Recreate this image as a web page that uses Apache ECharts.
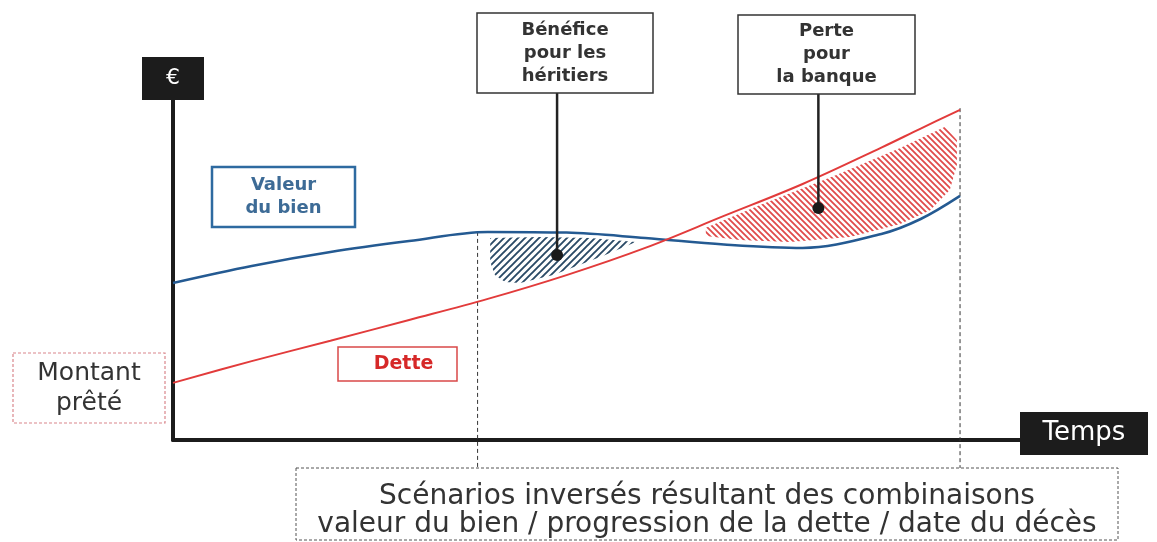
<!DOCTYPE html>
<html>
<head>
<meta charset="utf-8">
<script src="https://cdn.jsdelivr.net/npm/echarts@6/dist/echarts.min.js"></script>
<style>
html,body{margin:0;padding:0;background:#fff}
#chart{width:1157px;height:542px}
</style>
</head>
<body>
<div id="chart"></div>
<script>
// time steps (0 = start of loan, 100 = latest death date shown)
const timeSteps=[0,10,20,30,40,50,60,70,80,90,95,100]
const valeurBien=[46.2,51.2,55.3,58.5,61.2,61.0,59.4,57.5,56.5,60.6,65.0,71.8]
const dette=[16.8,23.2,29.2,35.3,41.5,48.5,56.5,65.9,75.3,86.0,91.6,97.1]

// death dates of the two scenarios and where their dashed marker starts
const deathDates=[38.7,100]
const deathTops=[61.2,97.6]

// hatched zones between the curves
const beneficeZone=[[40.3,59.4],[46.6,59.7],[53.0,59.4],[58.8,58.2],[54.6,54.1],[48.3,48.5],[44.1,46.2],[42.2,46.5],[40.9,48.5],[40.3,52.4]]
const perteZone=[[67.7,62.4],[74.6,69.1],[83.9,77.6],[92.4,85.9],[98.1,92.1],[99.6,88.2],[99.6,80.9],[98.7,73.5],[96.2,67.6],[92.4,63.5],[86.0,59.7],[78.4,58.2],[72.0,58.8],[67.7,60.0]]

// callout dots
const calloutPoints=[[48.8,54.4],[82.0,68.2]]
const calloutTops=[93,94]

const FONT='"DejaVu Sans", "Liberation Sans", sans-serif'

const hatch=(color,size,width,dir)=>{
	const c=document.createElement('canvas')
	c.width=c.height=size
	const g=c.getContext('2d')
	g.strokeStyle=color
	g.lineWidth=width
	g.beginPath()
	if(dir>0){
		g.moveTo(0,size);g.lineTo(size,0)
		g.moveTo(-2,2);g.lineTo(2,-2)
		g.moveTo(size-2,size+2);g.lineTo(size+2,size-2)
	}else{
		g.moveTo(0,0);g.lineTo(size,size)
		g.moveTo(-2,size-2);g.lineTo(2,size+2)
		g.moveTo(size-2,-2);g.lineTo(size+2,2)
	}
	g.stroke()
	return c
}
const zones=[
	{pts:beneficeZone,fill:{image:hatch('#2a4a66',7,1.9,1),repeat:'repeat'}},
	{pts:perteZone,fill:{image:hatch('#e04a4a',6,1.8,-1),repeat:'repeat'}}
]

const box=(x,y,w,h,text,o)=>({
	type:'group',
	children:[
		{type:'rect',shape:{x:x,y:y,width:w,height:h},style:{fill:o.bg||'#fff',stroke:o.stroke||null,lineWidth:o.lw||1,lineDash:o.dash||null},z:10},
		{type:'text',x:x+w/2+(o.dx||0),y:y+h/2+(o.dy||0),style:{text:text,align:'center',verticalAlign:'middle',font:o.font,fill:o.color,lineHeight:o.lh||20},z:11}
	]
})

const chart=echarts.init(document.getElementById('chart'))
chart.setOption({
	animation:false,
	backgroundColor:'#fff',
	grid:{left:173,right:134,top:100,bottom:102},
	xAxis:{
		type:'value',min:0,max:108,
		axisLine:{show:true,lineStyle:{color:'#1c1c1c',width:4}},
		axisTick:{show:false},axisLabel:{show:false},splitLine:{show:false}
	},
	yAxis:{
		type:'value',min:0,max:100,
		axisLine:{show:true,lineStyle:{color:'#1c1c1c',width:4}},
		axisTick:{show:false},axisLabel:{show:false},splitLine:{show:false}
	},
	graphic:[
		box(142,57,62,43,'€',{bg:'#1c1c1c',font:'22px '+FONT,color:'#fff'}),
		box(1020,412,128,43,'Temps',{bg:'#1c1c1c',font:'26px '+FONT,color:'#fff'}),
		box(212,167,143,60,'Valeur\ndu bien',{stroke:'#2e6aa0',lw:2.5,font:'bold 18px '+FONT,color:'#3d6b96',lh:23}),
		box(338,347,119,34,'Dette',{stroke:'#d94848',lw:1.5,font:'bold 19px '+FONT,color:'#d62828',dx:6}),
		box(13,353,152,70,'Montant\nprêté',{stroke:'#d9868c',lw:1.2,dash:[3,2],font:'25px '+FONT,color:'#333',lh:30}),
		box(477,13,176,80,'Bénéfice\npour les\nhéritiers',{stroke:'#333',lw:1.5,font:'bold 18px '+FONT,color:'#333',lh:23}),
		box(738,15,177,79,'Perte\npour\nla banque',{stroke:'#333',lw:1.5,font:'bold 18px '+FONT,color:'#333',lh:23}),
		box(296,468,822,72,'Scénarios inversés résultant des combinaisons\nvaleur du bien / progression de la dette / date du décès',{stroke:'#555',lw:1,dash:[3,2],font:'28px '+FONT,color:'#333',lh:28,dy:7})
	],
	series:[
		{
			type:'custom',
			z:1,
			data:deathDates.map((t,i)=>[t,deathTops[i]]),
			renderItem:(params,api)=>{
				const p=api.coord([api.value(0),api.value(1)])
				return {type:'line',shape:{x1:p[0],y1:p[1],x2:p[0],y2:468},style:{stroke:'#333',lineWidth:1,lineDash:[4,3]}}
			}
		},
		{
			type:'custom',
			z:2,
			data:zones.map((z,i)=>[i,0]),
			renderItem:(params,api)=>{
				const z=zones[params.dataIndex]
				return {type:'polygon',shape:{points:z.pts.map(p=>api.coord(p))},style:{fill:z.fill}}
			}
		},
		{
			name:'Valeur du bien',
			type:'line',
			z:3,
			smooth:0.35,
			showSymbol:false,
			data:timeSteps.map((t,i)=>[t,valeurBien[i]]),
			lineStyle:{color:'#245a92',width:2.5}
		},
		{
			name:'Dette',
			type:'line',
			z:3,
			smooth:0.35,
			showSymbol:false,
			data:timeSteps.map((t,i)=>[t,dette[i]]),
			lineStyle:{color:'#e23b3b',width:2}
		},
		{
			type:'custom',
			z:5,
			data:calloutPoints,
			renderItem:(params,api)=>{
				const p=api.coord([api.value(0),api.value(1)])
				return {type:'group',children:[
					{type:'line',shape:{x1:p[0],y1:calloutTops[params.dataIndex],x2:p[0],y2:p[1]},style:{stroke:'#222',lineWidth:2.5}},
					{type:'circle',shape:{cx:p[0],cy:p[1],r:6},style:{fill:'#1a1a1a'}}
				]}
			}
		}
	]
})
</script>
</body>
</html>
